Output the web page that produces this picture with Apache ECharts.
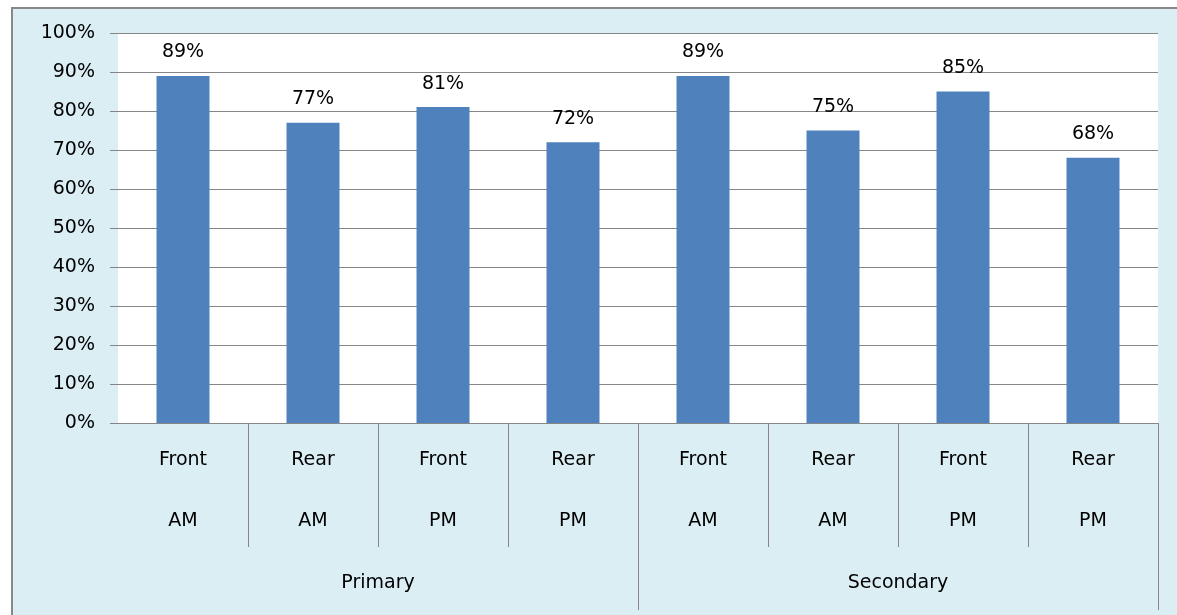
<!DOCTYPE html>
<html>
<head>
<meta charset="utf-8">
<script src="https://cdn.jsdelivr.net/npm/echarts@6/dist/echarts.min.js"></script>
<style>
  html, body { margin: 0; padding: 0; background: #fff; }
  .frame {
    position: absolute; left: 11px; top: 7px; width: 1200px; height: 700px;
    background: #dbeef4;
    border-left: 2px solid #888;
    border-top: 2px solid #888;
  }
  #chart { position: absolute; left: 0; top: 0; width: 1177px; height: 615px; }
</style>
</head>
<body>
<div class="frame"></div>
<div id="chart"></div>
<script>
// chart data
const sides = ['Front', 'Rear', 'Front', 'Rear', 'Front', 'Rear', 'Front', 'Rear']
const times = ['AM', 'AM', 'PM', 'PM', 'AM', 'AM', 'PM', 'PM']
const schools = ['Primary', 'Secondary']
const values = [89, 77, 81, 72, 89, 75, 85, 68]
const yTicks = [0, 10, 20, 30, 40, 50, 60, 70, 80, 90, 100]

const font = 'DejaVu Sans'
const gridPos = { left: 118, right: 19, top: 33, height: 390 }

// separator positions (band edges, skipping the left one) and label centres
function edges (n) {
  let arr = []
  for (let i = 1; i <= n; i++) arr.push(i)
  return arr
}
function centres (n) {
  let arr = []
  for (let i = 0; i < n; i++) arr.push(i + 0.5)
  return arr
}

let myChart = echarts.init(document.getElementById('chart'))
myChart.setOption({
  animation: false,
  grid: [
    Object.assign({ show: true, backgroundColor: '#fff', borderWidth: 0 }, gridPos),
    Object.assign({}, gridPos),
    Object.assign({}, gridPos)
  ],
  xAxis: [
    {
      // level 1: Front / Rear
      gridIndex: 0,
      type: 'category',
      data: sides,
      axisLine: { lineStyle: { color: '#868686', width: 1 } },
      axisTick: { show: false },
      axisLabel: {
        margin: 37,
        verticalAlign: 'middle',
        fontFamily: font,
        fontSize: 19,
        color: '#000'
      }
    },
    {
      // level 2: AM / PM, with the short separators
      gridIndex: 1,
      type: 'value',
      min: 0,
      max: times.length,
      splitLine: { show: false },
      axisLine: { show: false },
      axisTick: {
        show: true,
        length: 124,
        customValues: edges(times.length),
        lineStyle: { color: '#868686' }
      },
      axisLabel: {
        customValues: centres(times.length),
        formatter: function (v) { return times[Math.floor(v)] },
        margin: 98,
        verticalAlign: 'middle',
        fontFamily: font,
        fontSize: 19,
        color: '#000'
      }
    },
    {
      // level 3: Primary / Secondary, with the long separators
      gridIndex: 2,
      type: 'value',
      min: 0,
      max: schools.length,
      splitLine: { show: false },
      axisLine: { show: false },
      axisTick: {
        show: true,
        length: 187,
        customValues: edges(schools.length),
        lineStyle: { color: '#868686' }
      },
      axisLabel: {
        customValues: centres(schools.length),
        formatter: function (v) { return schools[Math.floor(v)] },
        margin: 160,
        verticalAlign: 'middle',
        fontFamily: font,
        fontSize: 19,
        color: '#000'
      }
    }
  ],
  yAxis: [
    {
      gridIndex: 0,
      type: 'value',
      min: yTicks[0],
      max: yTicks[yTicks.length - 1],
      interval: 10,
      axisLine: { show: false },
      axisTick: { show: true, length: 8, lineStyle: { color: '#868686' } },
      splitLine: { lineStyle: { color: '#868686', width: 1 } },
      axisLabel: {
        margin: 23,
        formatter: '{value}%',
        fontFamily: font,
        fontSize: 19,
        color: '#000'
      }
    },
    { gridIndex: 1, type: 'value', show: false },
    { gridIndex: 2, type: 'value', show: false }
  ],
  series: [
    {
      type: 'bar',
      xAxisIndex: 0,
      yAxisIndex: 0,
      data: values,
      barWidth: 53,
      itemStyle: { color: '#4f81bd' },
      label: {
        show: true,
        position: 'top',
        distance: 14,
        formatter: '{c}%',
        fontFamily: font,
        fontSize: 19,
        color: '#000'
      }
    }
  ]
})
window.addEventListener('resize', function () {
  myChart.resize()
})
</script>
</body>
</html>
